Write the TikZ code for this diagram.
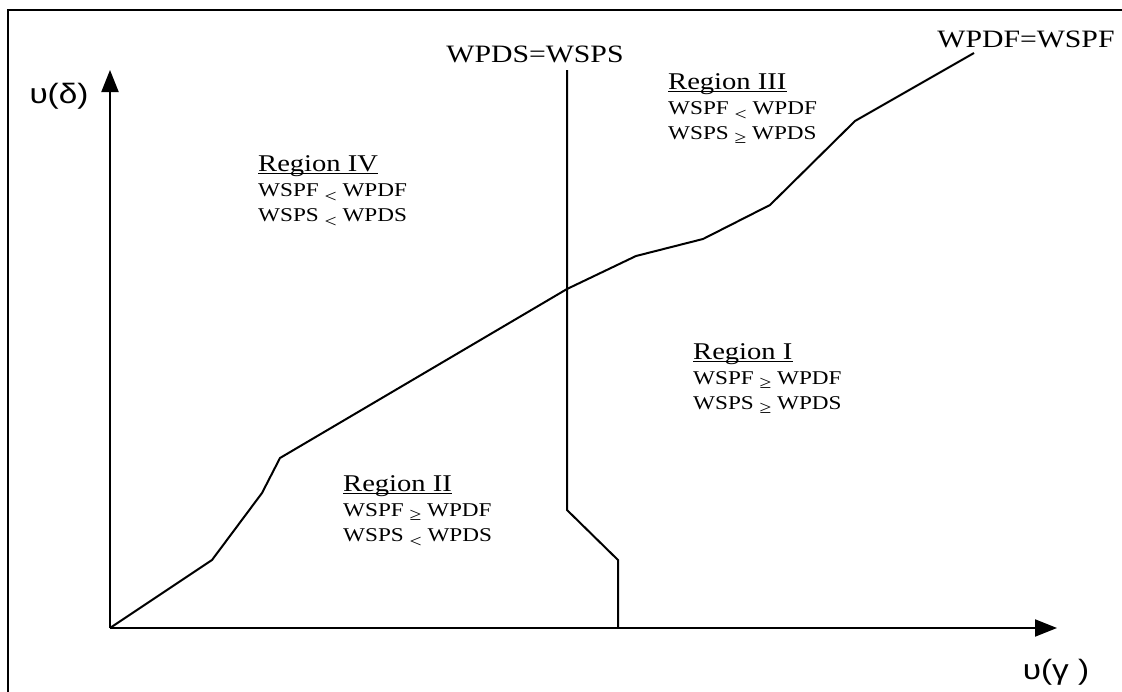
\documentclass[tikz,border=0pt]{standalone}
\usepackage{fontspec}
\setmainfont{Liberation Serif}
\newfontfamily\greekfont{Liberation Sans}
\usetikzlibrary{arrows.meta}

% text set slightly wider than its natural shape
\newcommand{\hx}[1]{\scalebox{1.19}[1]{#1}}
\newcommand{\smalllt}{\raisebox{-6pt}{\fontsize{18}{18}\selectfont <}}
\newcommand{\smallge}{\raisebox{-4pt}{\fontsize{18}{18}\selectfont ≥}}

\tikzset{
  x=1pt, y=-1pt,
  axis/.style={line width=2pt, -{Triangle[length=22pt,width=17pt]}},
  curve/.style={line width=2pt, line join=miter},
  head/.style={anchor=base west, inner sep=0pt, font=\fontsize{24}{28}\selectfont},
  cond/.style={anchor=base west, inner sep=0pt, font=\fontsize{19.5}{22}\selectfont},
  boundary/.style={anchor=base, inner sep=0pt, font=\fontsize{25}{28}\selectfont},
  axislabel/.style={inner sep=0pt, font=\greekfont\fontsize{28}{32}\selectfont},
  rule/.style={line width=1.3pt},
}

\begin{document}
\begin{tikzpicture}
\useasboundingbox (0,0) rectangle (1122,691);
\clip (0,0) rectangle (1122,691);

% outer frame
\draw[line width=2pt] (8,10) rectangle (1126,696);

% axes
\coordinate (O) at (110,628);
\coordinate (ytip) at (110,70);
\coordinate (xtip) at (1057,628);
\draw[axis] (O) -- (ytip);
\draw[axis] (O) -- (xtip);
\node[axislabel] (ylab) at (59,96) {\hx{υ(δ)}};
\node[axislabel] (xlab) at (1056,672) {\hx{υ(γ )}};

% WPDF = WSPF boundary
\coordinate (f1) at (212,560);
\coordinate (f2) at (262,493);
\coordinate (f3) at (280,458);
\coordinate (f4) at (567,289);
\coordinate (f5) at (636,256);
\coordinate (f6) at (703,239);
\coordinate (f7) at (770,205);
\coordinate (f8) at (855,121);
\coordinate (f9) at (974,53);
\draw[curve] (O) -- (f1) -- (f2) -- (f3) -- (f4) -- (f5) -- (f6) -- (f7) -- (f8) -- (f9);

% WPDS = WSPS boundary
\coordinate (s1) at (567,70);
\coordinate (s2) at (567,510);
\coordinate (s3) at (618,560);
\coordinate (s4) at (618,628);
\draw[curve] (s1) -- (s2) -- (s3) -- (s4);

\node[boundary] (bs) at (535,62) {\hx{WPDS=WSPS}};
\node[boundary] (bf) at (1026,47) {\hx{WPDF=WSPF}};

% Region IV
\node[head] (r4) at (258,171) {\hx{Region IV}};
\node[cond] (r4a) at (258,196) {\hx{WSPF \smalllt\ WPDF}};
\node[cond] (r4b) at (258,221) {\hx{WSPS \smalllt\ WPDS}};

% Region III
\node[head] (r3) at (668,89) {\hx{Region III}};
\node[cond] (r3a) at (668,114) {\hx{WSPF \smalllt\ WPDF}};
\node[cond] (r3b) at (668,139) {\hx{WSPS \smallge\ WPDS}};

% Region I
\node[head] (r1) at (693,359) {\hx{Region I}};
\node[cond] (r1a) at (693,384) {\hx{WSPF \smallge\ WPDF}};
\node[cond] (r1b) at (693,409) {\hx{WSPS \smallge\ WPDS}};

% Region II
\node[head] (r2) at (343,491) {\hx{Region II}};
\node[cond] (r2a) at (343,516) {\hx{WSPF \smallge\ WPDF}};
\node[cond] (r2b) at (343,541) {\hx{WSPS \smalllt\ WPDS}};

% heading underlines
\foreach \r in {r1,r2,r3,r4}
  \draw[rule] ([yshift=-2.5pt]\r.base west) -- ([yshift=-2.5pt]\r.base east);
\end{tikzpicture}
\end{document}
